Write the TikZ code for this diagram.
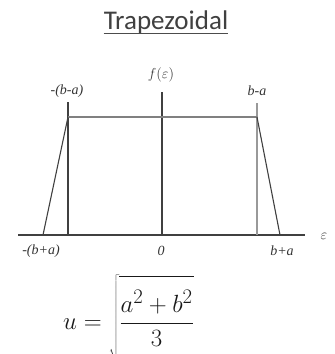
\documentclass[tikz,border=0pt]{standalone}
\usepackage{fontspec}
\newfontfamily\titlefont{Carlito}
\newfontfamily\lblfont{Liberation Serif}
\begin{document}
\begin{tikzpicture}[x=1pt,y=-1pt,
  dark/.style={draw=black!75,line width=1.3pt},
  light/.style={draw=black!45,line width=1.2pt},
  lbl/.style={inner sep=0pt,font=\lblfont\fontsize{14}{16}\selectfont\itshape,text=black!80}]
\useasboundingbox (0,0) rectangle (335,354);
\clip (0,0) rectangle (335,354);
% title
\node[inner sep=0pt,font=\titlefont\fontsize{27}{30}\selectfont,text=black!75,anchor=base] (title) at (166,29) {Trapezoidal};
\draw[black!70,line width=1pt] ([yshift=-4pt]title.base west) -- ([yshift=-4pt]title.base east);
% axis
\coordinate (ax0) at (18,235);
\coordinate (ax1) at (305,235);
\draw[dark] (ax0) -- (ax1);
% verticals
\coordinate (lt) at (68,102);
\coordinate (lb) at (68,235);
\coordinate (ct) at (162,92);
\coordinate (cb) at (162,235);
\coordinate (rt) at (257,103);
\coordinate (rb) at (257,235);
\draw[dark] (lt) -- (lb);
\draw[dark] (ct) -- (cb);
\draw[light,draw=black!40] (rt) -- (rb);
% top
\coordinate (tl) at (68,117);
\coordinate (tr) at (257,117);
\draw[light,draw=black!50] (tl) -- (tr);
\coordinate (sl) at (43,235);
\coordinate (sr) at (280,235);
\draw[dark,line width=1.1pt] (tl) -- (sl);
\draw[dark,line width=1.1pt] (tr) -- (sr);
% labels
\node[lbl] (fe) at (161,75) {$f(\varepsilon)$};
\node[lbl] (mba) at (67,91) {-(b-a)};
\node[lbl] (ba) at (257,91) {b-a};
\node[lbl] (mbpa) at (41,251) {-(b+a)};
\node[lbl] (zero) at (161,251) {0};
\node[lbl] (bpa) at (282,251) {b+a};
\node[lbl] (eps) at (324,236) {$\varepsilon$};
% formula
\node[inner sep=0pt,font=\fontsize{29}{34}\selectfont,anchor=base west,text=black!90] (u) at (63,329) {$u = \sqrt{\rule[-34pt]{0pt}{84pt}\displaystyle\frac{a^2+b^2}{3}}$};
\end{tikzpicture}
\end{document}
